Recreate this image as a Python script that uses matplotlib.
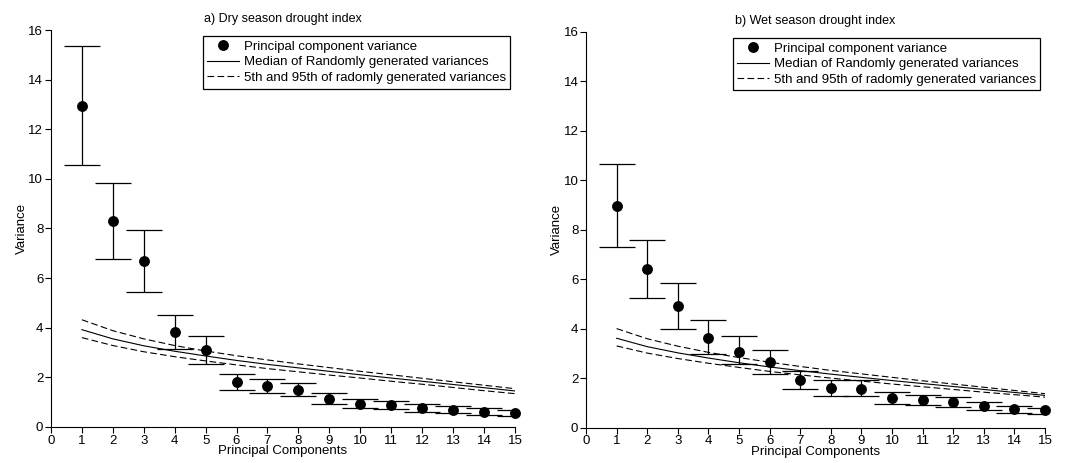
import numpy as np
import matplotlib
matplotlib.use("Agg")
import matplotlib.pyplot as plt
from matplotlib.lines import Line2D

plt.rcParams['font.family'] = ['Liberation Sans', 'DejaVu Sans']

components = np.arange(1, 16)

# a) Dry season
dry_var = [12.94, 8.31, 6.67, 3.81, 3.09, 1.80, 1.64, 1.50, 1.14, 0.94, 0.87, 0.77, 0.70, 0.62, 0.56]
dry_low = [10.56, 6.78, 5.44, 3.15, 2.55, 1.48, 1.37, 1.23, 0.94, 0.78, 0.71, 0.60, 0.54, 0.48, 0.43]
dry_high = [15.37, 9.84, 7.93, 4.52, 3.68, 2.12, 1.95, 1.77, 1.37, 1.13, 1.06, 0.93, 0.86, 0.77, 0.70]
dry_med = [3.92, 3.55, 3.27, 3.05, 2.86, 2.68, 2.52, 2.38, 2.24, 2.10, 1.97, 1.84, 1.71, 1.58, 1.45]
dry_p95 = [4.32, 3.88, 3.55, 3.28, 3.06, 2.87, 2.70, 2.54, 2.39, 2.24, 2.10, 1.96, 1.82, 1.68, 1.54]
dry_p5 = [3.60, 3.28, 3.03, 2.83, 2.66, 2.50, 2.35, 2.22, 2.09, 1.97, 1.84, 1.72, 1.59, 1.46, 1.34]

# b) Wet season
wet_var = [8.97, 6.40, 4.94, 3.65, 3.08, 2.66, 1.92, 1.61, 1.57, 1.19, 1.13, 1.04, 0.88, 0.76, 0.70]
wet_low = [7.30, 5.23, 4.01, 3.00, 2.57, 2.19, 1.58, 1.30, 1.30, 0.97, 0.92, 0.85, 0.72, 0.61, 0.57]
wet_high = [10.65, 7.60, 5.86, 4.36, 3.70, 3.15, 2.30, 1.94, 1.92, 1.44, 1.34, 1.23, 1.05, 0.89, 0.81]
wet_med = [3.62, 3.28, 3.03, 2.82, 2.63, 2.46, 2.31, 2.17, 2.04, 1.91, 1.79, 1.67, 1.55, 1.43, 1.31]
wet_p95 = [4.01, 3.60, 3.30, 3.05, 2.84, 2.65, 2.48, 2.32, 2.18, 2.04, 1.90, 1.77, 1.64, 1.51, 1.38]
wet_p5 = [3.31, 3.02, 2.80, 2.61, 2.44, 2.28, 2.14, 2.01, 1.89, 1.77, 1.66, 1.55, 1.44, 1.34, 1.24]

titles = ["a) Dry season drought index", "b) Wet season drought index"]
legend_labels = ["Principal component variance",
                 "Median of Randomly generated variances",
                 "5th and 95th of radomly generated variances"]

fig = plt.figure(figsize=(10.84, 4.63), dpi=100)
ax1 = fig.add_axes([0.047, 0.078, 0.428, 0.857])
ax2 = fig.add_axes([0.5406, 0.076, 0.4234, 0.855])

panels = [
    (ax1, dry_var, dry_low, dry_high, dry_med, dry_p95, dry_p5, titles[0]),
    (ax2, wet_var, wet_low, wet_high, wet_med, wet_p95, wet_p5, titles[1]),
]

fs = 9.5
for ax, v, lo, hi, med, p95, p5, title in panels:
    v = np.array(v); lo = np.array(lo); hi = np.array(hi)
    ax.errorbar(components, v, yerr=[v - lo, hi - v], fmt='none', ecolor='black',
                elinewidth=0.9, capsize=12.8, capthick=0.9)
    ax.plot(components, v, 'o', color='black', markersize=6.8, clip_on=False, zorder=5)
    ax.plot(components, med, '-', color='black', lw=0.8)
    ax.plot(components, p95, '--', color='black', lw=0.8, dashes=(6, 3))
    ax.plot(components, p5, '--', color='black', lw=0.8, dashes=(6, 3))
    ax.set_xlim(0, 15)
    ax.set_ylim(0, 16)
    ax.set_xticks(np.arange(0, 16, 1))
    ax.set_yticks(np.arange(0, 17, 2))
    for s in ['top', 'right']:
        ax.spines[s].set_visible(False)
    ax.tick_params(direction='out', length=4, width=0.8, labelsize=fs, pad=1.5)
    ax.set_xlabel("Principal Components", fontsize=fs, labelpad=-1)
    ax.set_ylabel("Variance", fontsize=fs, labelpad=0.5)
    ax.set_title(title, fontsize=9, pad=6)
    handles = [
        Line2D([], [], marker='o', color='black', ls='none', markersize=6.8),
        Line2D([], [], color='black', lw=0.8),
        Line2D([], [], color='black', lw=0.8, ls='--', dashes=(6, 3)),
    ]
    leg = ax.legend(handles, legend_labels, loc='upper right', bbox_to_anchor=(0.99, 0.985),
                    fontsize=fs, frameon=True, fancybox=False, framealpha=1,
                    edgecolor='black', handlelength=2.4, handletextpad=0.35,
                    borderpad=0.35, labelspacing=0.25, borderaxespad=0)
    leg.get_frame().set_linewidth(0.9)

fig.savefig("out.png", dpi=100)
